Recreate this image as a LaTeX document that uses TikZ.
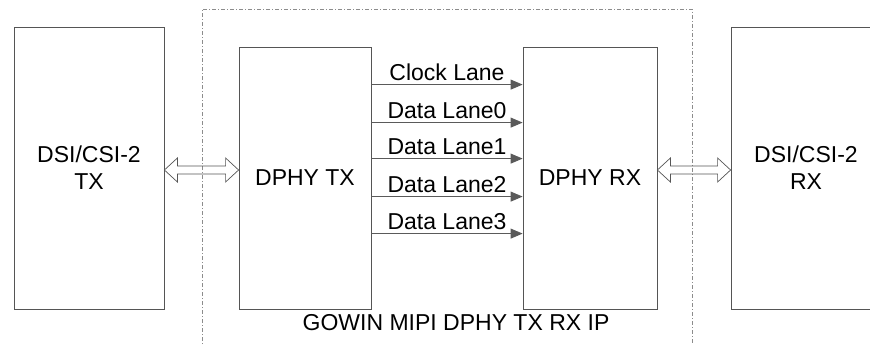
\documentclass[tikz,border=0pt]{standalone}
\usepackage{fontspec}
\setmainfont{Liberation Sans}
\usetikzlibrary{arrows.meta,calc}
\definecolor{boxgray}{HTML}{555555}
\definecolor{lanegray}{HTML}{5A5A5A}
\definecolor{ipgray}{HTML}{8C8C8C}

\begin{document}
\begin{tikzpicture}[x=1pt,y=-1pt,
    font=\fontsize{23}{27}\selectfont,
    block/.style={draw=boxgray,line width=0.8pt,align=center,inner sep=0pt},
    lane/.style={draw=lanegray,line width=0.9pt,-{Triangle[length=12pt,width=10pt]}},
    lanelabel/.style={midway,anchor=base,yshift=4.5pt,inner sep=0pt},
    hollow/.style={draw=boxgray,line width=0.7pt,line join=miter},
    ipframe/.style={draw=ipgray,line width=0.7pt,dash pattern=on 4pt off 2pt on 1pt off 2pt}]
  \useasboundingbox (0,0) rectangle (870,345);
  \clip (0,0) rectangle (870,345);

  % IP boundary
  \draw[ipframe] (202,350) -- (202,9) -- (692,9) -- (692,350);
  \node (ip) at (456,323) {GOWIN MIPI DPHY TX RX IP};

  % blocks
  \node[block,minimum width=150pt,minimum height=282pt] (dsitx) at (89,168) {DSI/CSI-2\\TX};
  \node[block,minimum width=132pt,minimum height=262pt] (phytx) at (305,178) {DPHY TX};
  \node[block,minimum width=134pt,minimum height=262pt] (phyrx) at (590,178) {DPHY RX};
  \node[block,minimum width=150pt,minimum height=282pt] (dsirx) at (806,168) {DSI/CSI-2\\RX};

  % lanes
  \begin{scope}[lane]
    \draw ([yshift=-38pt]phytx.north east) -- node[lanelabel]{Clock Lane} ([yshift=-38pt]phyrx.north west);
    \draw ([yshift=-76pt]phytx.north east) -- node[lanelabel]{Data Lane0} ([yshift=-76pt]phyrx.north west);
    \draw ([yshift=-112pt]phytx.north east) -- node[lanelabel]{Data Lane1} ([yshift=-112pt]phyrx.north west);
    \draw ([yshift=-150pt]phytx.north east) -- node[lanelabel]{Data Lane2} ([yshift=-150pt]phyrx.north west);
    \draw ([yshift=-187pt]phytx.north east) -- node[lanelabel]{Data Lane3} ([yshift=-187pt]phyrx.north west);
  \end{scope}

  % protocol links
  \draw[hollow] let \p1=(dsitx.east), \p2=(phytx.west) in
    (\x1,170) -- (\x1+13pt,158) -- (\x1+13pt,166) -- (\x2-13pt,166) -- (\x2-13pt,158) -- (\x2,170)
    -- (\x2-13pt,182) -- (\x2-13pt,174) -- (\x1+13pt,174) -- (\x1+13pt,182) -- cycle;
  \draw[hollow] let \p1=(phyrx.east), \p2=(dsirx.west) in
    (\x1,170) -- (\x1+13pt,158) -- (\x1+13pt,166) -- (\x2-13pt,166) -- (\x2-13pt,158) -- (\x2,170)
    -- (\x2-13pt,182) -- (\x2-13pt,174) -- (\x1+13pt,174) -- (\x1+13pt,182) -- cycle;
\end{tikzpicture}
\end{document}
